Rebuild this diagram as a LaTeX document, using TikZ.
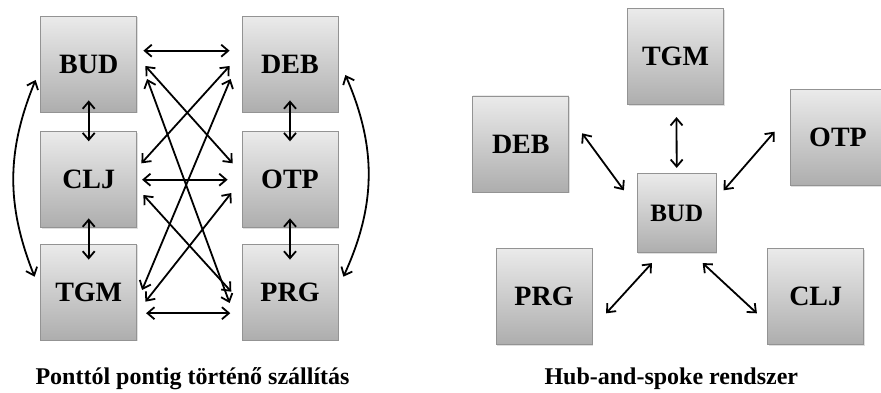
\documentclass[tikz,border=0pt]{standalone}
\usepackage{fontspec}
\setmainfont{Liberation Serif}
\usetikzlibrary{arrows.meta,shadows}
\begin{document}
\begin{tikzpicture}[
  x=1pt, y=-1pt,
  city/.style={draw=gray!85, line width=0.8pt, top color=black!8, bottom color=black!32,
    minimum size=96pt, inner sep=0pt, font=\fontsize{28}{30}\selectfont\bfseries,
    drop shadow={shadow xshift=1.2pt, shadow yshift=-1.2pt, opacity=0.25}},
  hub/.style={city, minimum size=79pt, font=\fontsize{25}{28}\selectfont\bfseries},
  link/.style={line width=1.8pt,
    {Straight Barb[length=7pt,width=12pt]}-{Straight Barb[length=7pt,width=12pt]}},
  caption/.style={font=\fontsize{24}{28}\selectfont\bfseries}
]
\useasboundingbox (0,0) rectangle (881,393);
% point-to-point
\node[city] (bud) at (88.7,64.2) {BUD};
\node[city] (clj) at (88.7,179.7) {CLJ};
\node[city] (tgm) at (88.7,292.2) {TGM};
\node[city] (deb) at (290,64.2) {DEB};
\node[city] (otp) at (290,179.7) {OTP};
\node[city] (prg) at (290,292.2) {PRG};
\draw[link] ([xshift=6.3pt,yshift=13.5pt]bud.east) -- ([xshift=-12pt,yshift=13.5pt]deb.west);
\draw[link] ([xshift=5pt]clj.east) -- ([xshift=-14pt]otp.west);
\draw[link] ([xshift=9pt,yshift=-21pt]tgm.east) -- ([xshift=-11.3pt,yshift=-21pt]prg.west);
\draw[link] ([yshift=12.2pt]bud.south) -- ([yshift=-10pt]clj.north);
\draw[link] ([yshift=9.7pt]clj.south) -- ([yshift=-15.8pt]tgm.north);
\draw[link] ([yshift=12.2pt]deb.south) -- ([yshift=-10pt]otp.north);
\draw[link] ([yshift=9.7pt]otp.south) -- ([yshift=-15.8pt]prg.north);
\draw[link] ([xshift=-4.7pt,yshift=-15.8pt]bud.west) to[bend right=22] ([xshift=-5.7pt,yshift=15.5pt]tgm.west);
\draw[link] ([xshift=7pt,yshift=-10.8pt]deb.east) to[bend left=24] ([xshift=5pt,yshift=15.5pt]prg.east);
\draw[link] ([xshift=8.3pt,yshift=-1.8pt]bud.east) -- ([xshift=-9pt,yshift=16.4pt]otp.west);
\draw[link] ([xshift=10pt,yshift=-14.8pt]bud.east) -- ([xshift=-12pt,yshift=-10.8pt]prg.west);
\draw[link] ([xshift=-12pt,yshift=-1.8pt]deb.west) -- ([xshift=4.3pt,yshift=16.4pt]clj.east);
\draw[link] ([xshift=-11pt,yshift=-14.8pt]deb.west) -- ([xshift=5pt,yshift=2.2pt]tgm.east);
\draw[link] ([xshift=6.3pt,yshift=-15.3pt]clj.east) -- ([xshift=-10.3pt,yshift=0.5pt]prg.west);
\draw[link] ([xshift=-10.3pt,yshift=-13.3pt]otp.west) -- ([xshift=8.3pt,yshift=-9.5pt]tgm.east);
\node[caption] (p2p) at (192.5,379) {Ponttól pontig történő szállítás};
% hub-and-spoke
\node[city] (htgm) at (675.5,56.8) {TGM};
\node[city] (hdeb) at (520.8,144) {DEB};
\node[city] (hotp) at (838,137.5) {OTP};
\node[hub] (hbud) at (676.7,213.3) {BUD};
\node[city] (hprg) at (544,296.3) {PRG};
\node[city] (hclj) at (815.7,296.3) {CLJ};
\draw[link] ([yshift=5.5pt]hbud.north) -- ([xshift=1pt,yshift=-11.9pt]htgm.south);
\draw[link] ([xshift=-12.9pt,yshift=-16.9pt]hbud.north west) -- ([xshift=12.9pt,yshift=10.7pt]hdeb.east);
\draw[link] ([xshift=7.1pt,yshift=-16.9pt]hbud.north east) -- ([xshift=-15pt,yshift=5.8pt]hotp.west);
\draw[link] ([xshift=15.1pt,yshift=-9.9pt]hbud.south west) -- ([xshift=13.7pt,yshift=-17pt]hprg.east);
\draw[link] ([xshift=-13.9pt,yshift=-9.9pt]hbud.south east) -- ([xshift=-10.4pt,yshift=-17pt]hclj.west);
\node[caption] (hs) at (671.3,379) {Hub-and-spoke rendszer};
\end{tikzpicture}
\end{document}
